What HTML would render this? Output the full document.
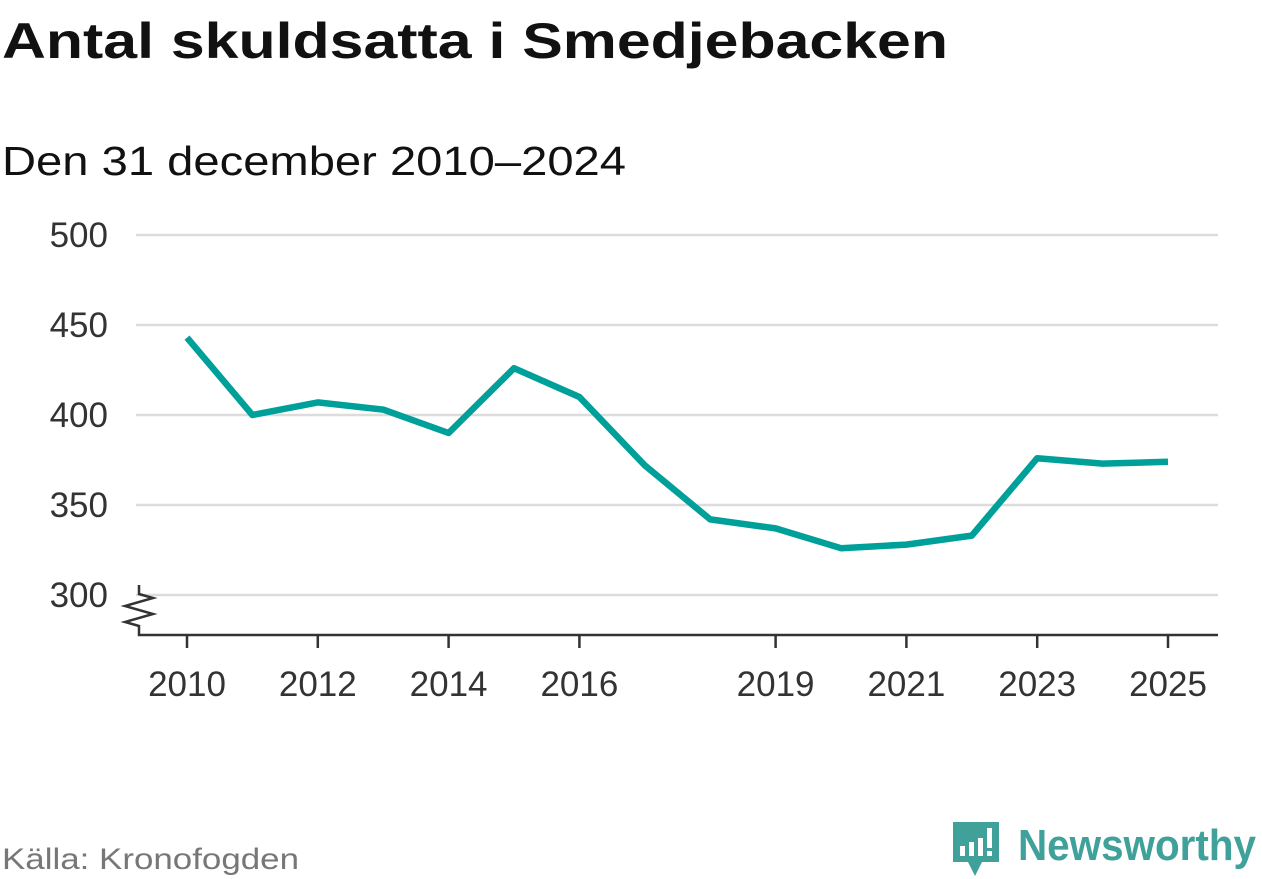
<!DOCTYPE html>
<html><head><meta charset="utf-8"><style>
html,body{margin:0;padding:0;background:#fff;}
svg{display:block;font-family:"Liberation Sans",sans-serif;}
</style></head><body>
<svg width="1262" height="879" viewBox="0 0 1262 879">
<text x="2" y="58" font-size="50" font-weight="bold" fill="#111" textLength="946" lengthAdjust="spacingAndGlyphs">Antal skuldsatta i Smedjebacken</text>
<text x="2" y="175" font-size="41" fill="#111" textLength="624" lengthAdjust="spacingAndGlyphs">Den 31 december 2010–2024</text>
<g id="grid"></g>
<g id="yticks"></g>
<path d="M139 585 L139 594 L153 598 L125 606 L153 614 L125 622 L139 626 L139 635 L1218 635" fill="none" stroke="#333" stroke-width="2.5"/>
<g id="xticks"></g>
<path id="line" fill="none" stroke="#00a09a" stroke-width="6.5" stroke-linejoin="round"/>
<text x="2" y="869" font-size="30" fill="#777" textLength="297" lengthAdjust="spacingAndGlyphs">Källa: Kronofogden</text>
<g>
<path d="M953 822 h46 v40 h-17 l-7 14 l-7 -14 h-15 z" fill="#3fa19a"/>
<rect x="960" y="846" width="5" height="10" fill="#fff"/><rect x="969" y="842" width="5" height="14" fill="#fff"/><rect x="978" y="838" width="5" height="18" fill="#fff"/><rect x="987" y="828" width="5" height="20" fill="#fff"/><rect x="987" y="851" width="5" height="5" fill="#fff"/>
<text x="1018" y="860" font-size="44" font-weight="bold" fill="#3fa19a" textLength="238" lengthAdjust="spacingAndGlyphs">Newsworthy</text>
</g>
</svg>
<script>
const years=[2010,2011,2012,2013,2014,2015,2016,2017,2018,2019,2020,2021,2022,2023,2024,2025];
const values=[443,400,407,403,390,426,410,372,342,337,326,328,333,376,373,374];
const yTicks=[300,350,400,450,500];
const xTickLabels=[2010,2012,2014,2016,2019,2021,2023,2025];
const NS="http://www.w3.org/2000/svg";
const x=v=>187+(v-2010)*(1168-187)/15;
const y=v=>595-(v-300)*1.8;
const grid=document.getElementById('grid'),yt=document.getElementById('yticks'),xt=document.getElementById('xticks');
yTicks.forEach(t=>{
 const l=document.createElementNS(NS,'line');
 l.setAttribute('x1',136);l.setAttribute('x2',1218);l.setAttribute('y1',y(t));l.setAttribute('y2',y(t));
 l.setAttribute('stroke','#dcdcdc');l.setAttribute('stroke-width',2.5);
 
 
 grid.appendChild(l);
 const tx=document.createElementNS(NS,'text');
 tx.setAttribute('x',108);tx.setAttribute('y',y(t)+12);tx.setAttribute('text-anchor','end');
 tx.setAttribute('font-size',35);tx.setAttribute('fill','#333');tx.textContent=t;
 
 
 yt.appendChild(tx);
});
xTickLabels.forEach(t=>{
 const l=document.createElementNS(NS,'line');
 l.setAttribute('x1',x(t));l.setAttribute('x2',x(t));l.setAttribute('y1',635);l.setAttribute('y2',648);
 l.setAttribute('stroke','#333');l.setAttribute('stroke-width',2.5);
 
 
 xt.appendChild(l);
 const tx=document.createElementNS(NS,'text');
 tx.setAttribute('x',x(t));tx.setAttribute('y',696);tx.setAttribute('text-anchor','middle');
 tx.setAttribute('font-size',35);tx.setAttribute('fill','#333');tx.textContent=t;
 
 
 xt.appendChild(tx);
});
document.getElementById('line').setAttribute('d',values.map((v,i)=>(i?'L':'M')+x(years[i])+' '+y(v)).join(' '));
</script>
</body></html>
